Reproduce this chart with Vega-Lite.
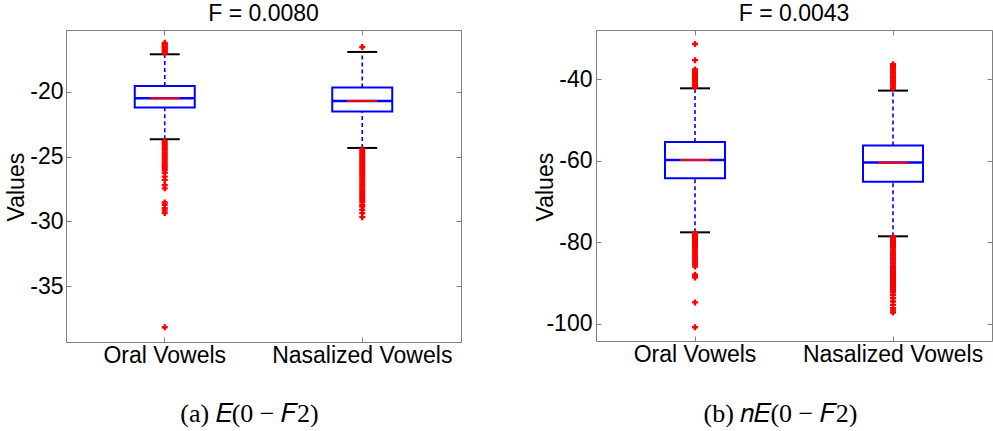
{
  "$schema": "https://vega.github.io/schema/vega-lite/v6.json",
  "padding": {"left": 5, "top": 2, "right": 0, "bottom": 0},
  "background": "white",
  "bounds": "flush",
  "spacing": 135,
  "config": {
    "view": {"stroke": "#808080", "strokeWidth": 1},
    "font": "Liberation Sans",
    "axis": {
      "labelFont": "Liberation Sans",
      "labelFontSize": 23,
      "labelLimit": 400,
      "labelColor": "#000000",
      "tickColor": "#808080",
      "tickSize": -5,
      "domain": false,
      "grid": false,
      "titleFont": "Liberation Sans",
      "titleFontWeight": "normal",
      "titleColor": "#000000"
    },
    "title": {"font": "Liberation Sans", "fontSize": 23, "fontWeight": "normal", "color": "#000000", "offset": 4},
    "style": {"group-title": {"fontSize": 23, "fontWeight": "normal", "font": "Liberation Sans"}}
  },
  "datasets": {
    "a_box": [
      {"group": "Oral Vowels", "q1": -21.23, "q3": -19.57, "median": -20.52, "lo": -23.67, "hi": -17.13},
      {"group": "Nasalized Vowels", "q1": -21.54, "q3": -19.69, "median": -20.72, "lo": -24.34, "hi": -16.95}
    ],
    "a_out": [
      {"group": "Oral Vowels", "value": -16.25}, {"group": "Oral Vowels", "value": -16.35}, {"group": "Oral Vowels", "value": -16.45},
      {"group": "Oral Vowels", "value": -16.55}, {"group": "Oral Vowels", "value": -16.65}, {"group": "Oral Vowels", "value": -16.75},
      {"group": "Oral Vowels", "value": -16.85}, {"group": "Oral Vowels", "value": -16.95}, {"group": "Oral Vowels", "value": -17.05},
      {"group": "Oral Vowels", "value": -23.8}, {"group": "Oral Vowels", "value": -23.95}, {"group": "Oral Vowels", "value": -24.1},
      {"group": "Oral Vowels", "value": -24.25}, {"group": "Oral Vowels", "value": -24.4}, {"group": "Oral Vowels", "value": -24.55},
      {"group": "Oral Vowels", "value": -24.7}, {"group": "Oral Vowels", "value": -24.85}, {"group": "Oral Vowels", "value": -25.0},
      {"group": "Oral Vowels", "value": -25.15}, {"group": "Oral Vowels", "value": -25.3}, {"group": "Oral Vowels", "value": -25.45},
      {"group": "Oral Vowels", "value": -25.6}, {"group": "Oral Vowels", "value": -25.75}, {"group": "Oral Vowels", "value": -25.9},
      {"group": "Oral Vowels", "value": -26.05}, {"group": "Oral Vowels", "value": -26.25}, {"group": "Oral Vowels", "value": -26.55},
      {"group": "Oral Vowels", "value": -26.8}, {"group": "Oral Vowels", "value": -27.2}, {"group": "Oral Vowels", "value": -27.45},
      {"group": "Oral Vowels", "value": -28.54}, {"group": "Oral Vowels", "value": -28.72}, {"group": "Oral Vowels", "value": -28.97},
      {"group": "Oral Vowels", "value": -29.15}, {"group": "Oral Vowels", "value": -29.35}, {"group": "Oral Vowels", "value": -38.15},
      {"group": "Nasalized Vowels", "value": -16.57},
      {"group": "Nasalized Vowels", "value": -24.45}, {"group": "Nasalized Vowels", "value": -24.6}, {"group": "Nasalized Vowels", "value": -24.75},
      {"group": "Nasalized Vowels", "value": -24.9}, {"group": "Nasalized Vowels", "value": -25.05}, {"group": "Nasalized Vowels", "value": -25.2},
      {"group": "Nasalized Vowels", "value": -25.35}, {"group": "Nasalized Vowels", "value": -25.5}, {"group": "Nasalized Vowels", "value": -25.65},
      {"group": "Nasalized Vowels", "value": -25.8}, {"group": "Nasalized Vowels", "value": -25.95}, {"group": "Nasalized Vowels", "value": -26.1},
      {"group": "Nasalized Vowels", "value": -26.25}, {"group": "Nasalized Vowels", "value": -26.4}, {"group": "Nasalized Vowels", "value": -26.55},
      {"group": "Nasalized Vowels", "value": -26.7}, {"group": "Nasalized Vowels", "value": -26.85}, {"group": "Nasalized Vowels", "value": -27.0},
      {"group": "Nasalized Vowels", "value": -27.15}, {"group": "Nasalized Vowels", "value": -27.3}, {"group": "Nasalized Vowels", "value": -27.45},
      {"group": "Nasalized Vowels", "value": -27.6}, {"group": "Nasalized Vowels", "value": -27.75}, {"group": "Nasalized Vowels", "value": -27.9},
      {"group": "Nasalized Vowels", "value": -28.05}, {"group": "Nasalized Vowels", "value": -28.2}, {"group": "Nasalized Vowels", "value": -28.35},
      {"group": "Nasalized Vowels", "value": -28.5}, {"group": "Nasalized Vowels", "value": -28.72}, {"group": "Nasalized Vowels", "value": -28.85},
      {"group": "Nasalized Vowels", "value": -29.1}, {"group": "Nasalized Vowels", "value": -29.36}, {"group": "Nasalized Vowels", "value": -29.67}
    ],
    "b_box": [
      {"group": "Oral Vowels", "q1": -64.28, "q3": -55.38, "median": -59.79, "lo": -77.52, "hi": -42.21},
      {"group": "Nasalized Vowels", "q1": -65.09, "q3": -56.26, "median": -60.43, "lo": -78.5, "hi": -42.77}
    ],
    "b_out": [
      {"group": "Oral Vowels", "value": -31.35}, {"group": "Oral Vowels", "value": -35.3}, {"group": "Oral Vowels", "value": -37.6},
      {"group": "Oral Vowels", "value": -38.0}, {"group": "Oral Vowels", "value": -38.4}, {"group": "Oral Vowels", "value": -38.8},
      {"group": "Oral Vowels", "value": -39.2}, {"group": "Oral Vowels", "value": -39.6}, {"group": "Oral Vowels", "value": -40.0},
      {"group": "Oral Vowels", "value": -40.4}, {"group": "Oral Vowels", "value": -40.8}, {"group": "Oral Vowels", "value": -41.2},
      {"group": "Oral Vowels", "value": -41.6}, {"group": "Oral Vowels", "value": -42.0},
      {"group": "Oral Vowels", "value": -77.7}, {"group": "Oral Vowels", "value": -78.2}, {"group": "Oral Vowels", "value": -78.7},
      {"group": "Oral Vowels", "value": -79.2}, {"group": "Oral Vowels", "value": -79.7}, {"group": "Oral Vowels", "value": -80.2},
      {"group": "Oral Vowels", "value": -80.7}, {"group": "Oral Vowels", "value": -81.2}, {"group": "Oral Vowels", "value": -81.7},
      {"group": "Oral Vowels", "value": -82.2}, {"group": "Oral Vowels", "value": -82.7}, {"group": "Oral Vowels", "value": -83.2},
      {"group": "Oral Vowels", "value": -83.7}, {"group": "Oral Vowels", "value": -84.2}, {"group": "Oral Vowels", "value": -84.7},
      {"group": "Oral Vowels", "value": -85.3}, {"group": "Oral Vowels", "value": -85.9}, {"group": "Oral Vowels", "value": -87.9},
      {"group": "Oral Vowels", "value": -88.2}, {"group": "Oral Vowels", "value": -88.6}, {"group": "Oral Vowels", "value": -94.7},
      {"group": "Oral Vowels", "value": -100.8},
      {"group": "Nasalized Vowels", "value": -36.3}, {"group": "Nasalized Vowels", "value": -36.8}, {"group": "Nasalized Vowels", "value": -37.3},
      {"group": "Nasalized Vowels", "value": -37.8}, {"group": "Nasalized Vowels", "value": -38.3}, {"group": "Nasalized Vowels", "value": -38.8},
      {"group": "Nasalized Vowels", "value": -39.3}, {"group": "Nasalized Vowels", "value": -39.8}, {"group": "Nasalized Vowels", "value": -40.3},
      {"group": "Nasalized Vowels", "value": -40.8}, {"group": "Nasalized Vowels", "value": -41.3}, {"group": "Nasalized Vowels", "value": -41.8},
      {"group": "Nasalized Vowels", "value": -42.3},
      {"group": "Nasalized Vowels", "value": -78.7}, {"group": "Nasalized Vowels", "value": -79.2}, {"group": "Nasalized Vowels", "value": -79.7},
      {"group": "Nasalized Vowels", "value": -80.2}, {"group": "Nasalized Vowels", "value": -80.7}, {"group": "Nasalized Vowels", "value": -81.2},
      {"group": "Nasalized Vowels", "value": -81.7}, {"group": "Nasalized Vowels", "value": -82.2}, {"group": "Nasalized Vowels", "value": -82.7},
      {"group": "Nasalized Vowels", "value": -83.2}, {"group": "Nasalized Vowels", "value": -83.7}, {"group": "Nasalized Vowels", "value": -84.2},
      {"group": "Nasalized Vowels", "value": -84.7}, {"group": "Nasalized Vowels", "value": -85.2}, {"group": "Nasalized Vowels", "value": -85.7},
      {"group": "Nasalized Vowels", "value": -86.2}, {"group": "Nasalized Vowels", "value": -86.7}, {"group": "Nasalized Vowels", "value": -87.2},
      {"group": "Nasalized Vowels", "value": -87.7}, {"group": "Nasalized Vowels", "value": -88.2}, {"group": "Nasalized Vowels", "value": -88.7},
      {"group": "Nasalized Vowels", "value": -89.2}, {"group": "Nasalized Vowels", "value": -89.7}, {"group": "Nasalized Vowels", "value": -90.2},
      {"group": "Nasalized Vowels", "value": -90.7}, {"group": "Nasalized Vowels", "value": -91.2}, {"group": "Nasalized Vowels", "value": -91.7},
      {"group": "Nasalized Vowels", "value": -92.2}, {"group": "Nasalized Vowels", "value": -92.9}, {"group": "Nasalized Vowels", "value": -93.7},
      {"group": "Nasalized Vowels", "value": -94.5}, {"group": "Nasalized Vowels", "value": -95.3}, {"group": "Nasalized Vowels", "value": -96.1},
      {"group": "Nasalized Vowels", "value": -96.7}, {"group": "Nasalized Vowels", "value": -97.2}
    ]
  },
  "hconcat": [
    {
      "width": 395,
      "height": 312,
      "title": {"text": "F = 0.0080", "fontSize": 23},
      "resolve": {"axis": {"x": "independent", "y": "independent"}},
      "layer": [
        {
          "data": {"name": "a_box"},
          "mark": {"type": "rule", "color": "#0000ff", "strokeWidth": 1.6, "strokeDash": [4, 3]},
          "encoding": {
            "x": {"field": "group", "type": "nominal", "scale": {"type": "band", "domain": ["Oral Vowels", "Nasalized Vowels"], "paddingInner": 0, "paddingOuter": 0},
              "axis": {"orient": "bottom", "labelAngle": 0, "labelPadding": 7, "title": "(a)  𝐸(0 − 𝐹2)", "titleFont": "Liberation Serif", "titleFontSize": 26, "titleBaseline": "alphabetic", "titleX": 183, "titleY": 79}},
            "y": {"field": "q3", "type": "quantitative", "scale": {"domain": [-39.28, -15.26], "nice": false, "zero": false},
              "axis": {"orient": "left", "values": [-35, -30, -25, -20], "labelExpr": "replace(datum.label, '\u2212', '-')", "labelPadding": 8, "title": "Values", "titleFontSize": 23, "titleBaseline": "alphabetic", "titleAngle": 270, "titleX": -42.3, "titleY": 156.6}},
            "y2": {"field": "hi"}
          }
        },
        {
          "data": {"name": "a_box"},
          "mark": {"type": "rule", "color": "#0000ff", "strokeWidth": 1.6, "strokeDash": [4, 3]},
          "encoding": {
            "x": {"field": "group", "type": "nominal", "axis": null},
            "y": {"field": "lo", "type": "quantitative", "axis": null},
            "y2": {"field": "q1"}
          }
        },
        {
          "data": {"name": "a_box"},
          "mark": {"type": "bar", "size": 60, "fill": "#ffffff", "stroke": "#0000ff", "strokeWidth": 2},
          "encoding": {
            "x": {"field": "group", "type": "nominal", "axis": {"orient": "top", "labels": false, "title": null}},
            "y": {"field": "q1", "type": "quantitative", "axis": {"orient": "right", "labels": false, "title": null, "values": [-35, -30, -25, -20]}},
            "y2": {"field": "q3"}
          }
        },
        {
          "data": {"name": "a_box"},
          "mark": {"type": "tick", "size": 60, "thickness": 2.5, "color": "#0000ff", "opacity": 1},
          "encoding": {"x": {"field": "group", "type": "nominal", "axis": null}, "y": {"field": "median", "type": "quantitative", "axis": null}}
        },
        {
          "data": {"name": "a_box"},
          "mark": {"type": "tick", "size": 30, "thickness": 2, "color": "#ff0000", "opacity": 1},
          "encoding": {"x": {"field": "group", "type": "nominal", "axis": null}, "y": {"field": "median", "type": "quantitative", "axis": null}}
        },
        {
          "data": {"name": "a_box"},
          "mark": {"type": "tick", "size": 30, "thickness": 2, "color": "#000000", "opacity": 1},
          "encoding": {"x": {"field": "group", "type": "nominal", "axis": null}, "y": {"field": "hi", "type": "quantitative", "axis": null}}
        },
        {
          "data": {"name": "a_box"},
          "mark": {"type": "tick", "size": 30, "thickness": 2, "color": "#000000", "opacity": 1},
          "encoding": {"x": {"field": "group", "type": "nominal", "axis": null}, "y": {"field": "lo", "type": "quantitative", "axis": null}}
        },
        {
          "data": {"name": "a_out"},
          "mark": {"type": "point", "shape": "cross", "filled": true, "size": 36, "color": "#ff0000", "opacity": 1},
          "encoding": {"x": {"field": "group", "type": "nominal", "axis": null}, "y": {"field": "value", "type": "quantitative", "axis": null}}
        }
      ]
    },
    {
      "width": 396,
      "height": 311,
      "title": {"text": "F = 0.0043", "fontSize": 23},
      "resolve": {"axis": {"x": "independent", "y": "independent"}},
      "layer": [
        {
          "data": {"name": "b_box"},
          "mark": {"type": "rule", "color": "#0000ff", "strokeWidth": 1.6, "strokeDash": [4, 3]},
          "encoding": {
            "x": {"field": "group", "type": "nominal", "scale": {"type": "band", "domain": ["Oral Vowels", "Nasalized Vowels"], "paddingInner": 0, "paddingOuter": 0},
              "axis": {"orient": "bottom", "labelAngle": 0, "labelPadding": 7, "title": "(b)  𝑛𝐸(0 − 𝐹2)", "titleFont": "Liberation Serif", "titleFontSize": 26, "titleBaseline": "alphabetic", "titleX": 184, "titleY": 80}},
            "y": {"field": "q3", "type": "quantitative", "scale": {"domain": [-104.17, -27.91], "nice": false, "zero": false},
              "axis": {"orient": "left", "values": [-100, -80, -60, -40], "labelExpr": "replace(datum.label, '\u2212', '-')", "labelPadding": 9, "title": "Values", "titleFontSize": 23, "titleBaseline": "alphabetic", "titleAngle": 270, "titleX": -44, "titleY": 156.6}},
            "y2": {"field": "hi"}
          }
        },
        {
          "data": {"name": "b_box"},
          "mark": {"type": "rule", "color": "#0000ff", "strokeWidth": 1.6, "strokeDash": [4, 3]},
          "encoding": {
            "x": {"field": "group", "type": "nominal", "axis": null},
            "y": {"field": "lo", "type": "quantitative", "axis": null},
            "y2": {"field": "q1"}
          }
        },
        {
          "data": {"name": "b_box"},
          "mark": {"type": "bar", "size": 60, "fill": "#ffffff", "stroke": "#0000ff", "strokeWidth": 2},
          "encoding": {
            "x": {"field": "group", "type": "nominal", "axis": {"orient": "top", "labels": false, "title": null}},
            "y": {"field": "q1", "type": "quantitative", "axis": {"orient": "right", "labels": false, "title": null, "values": [-100, -80, -60, -40]}},
            "y2": {"field": "q3"}
          }
        },
        {
          "data": {"name": "b_box"},
          "mark": {"type": "tick", "size": 60, "thickness": 2.5, "color": "#0000ff", "opacity": 1},
          "encoding": {"x": {"field": "group", "type": "nominal", "axis": null}, "y": {"field": "median", "type": "quantitative", "axis": null}}
        },
        {
          "data": {"name": "b_box"},
          "mark": {"type": "tick", "size": 30, "thickness": 2, "color": "#ff0000", "opacity": 1},
          "encoding": {"x": {"field": "group", "type": "nominal", "axis": null}, "y": {"field": "median", "type": "quantitative", "axis": null}}
        },
        {
          "data": {"name": "b_box"},
          "mark": {"type": "tick", "size": 30, "thickness": 2, "color": "#000000", "opacity": 1},
          "encoding": {"x": {"field": "group", "type": "nominal", "axis": null}, "y": {"field": "hi", "type": "quantitative", "axis": null}}
        },
        {
          "data": {"name": "b_box"},
          "mark": {"type": "tick", "size": 30, "thickness": 2, "color": "#000000", "opacity": 1},
          "encoding": {"x": {"field": "group", "type": "nominal", "axis": null}, "y": {"field": "lo", "type": "quantitative", "axis": null}}
        },
        {
          "data": {"name": "b_out"},
          "mark": {"type": "point", "shape": "cross", "filled": true, "size": 36, "color": "#ff0000", "opacity": 1},
          "encoding": {"x": {"field": "group", "type": "nominal", "axis": null}, "y": {"field": "value", "type": "quantitative", "axis": null}}
        }
      ]
    }
  ]
}
